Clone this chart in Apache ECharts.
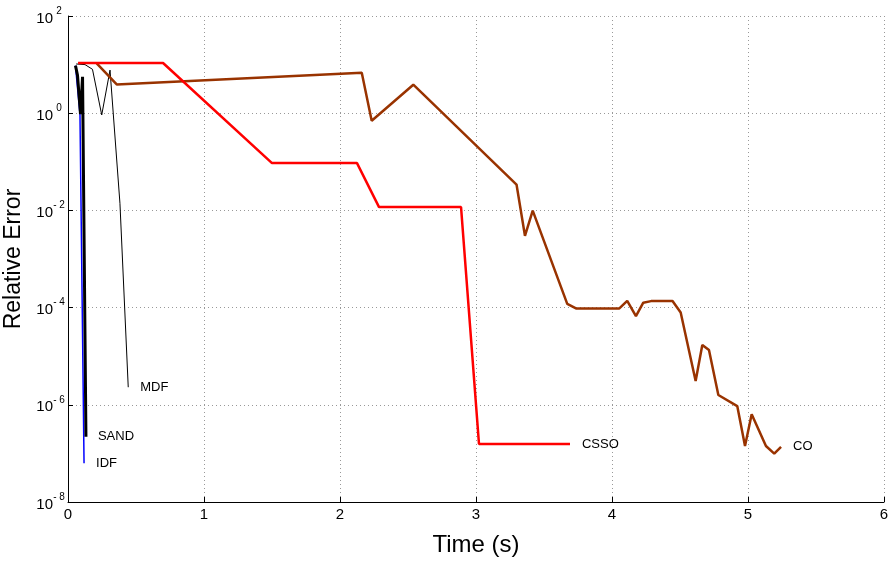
<!DOCTYPE html>
<html>
<head>
<meta charset="utf-8">
<script src="https://cdn.jsdelivr.net/npm/echarts@6/dist/echarts.min.js"></script>
<style>html,body{margin:0;padding:0;background:#fff}#c{width:891px;height:561px}</style>
</head>
<body>
<div id="c"></div>
<script>
// Data (time in s, relative error)
const idfTime = [0.055, 0.088, 0.118];
const idfErr  = [9.5, 0.95, 6.3e-8];

const sandTime = [0.055, 0.07, 0.092, 0.107, 0.132];
const sandErr  = [9.5, 6.0, 0.96, 5.6, 2.2e-7];

const mdfTime = [0.06, 0.125, 0.18, 0.248, 0.309, 0.382, 0.443];
const mdfErr  = [10.3, 10.0, 8.0, 0.92, 7.7, 0.014, 2.3e-6];

const coTime = [0.211, 0.358, 2.16, 2.233, 2.539, 3.298, 3.36, 3.417, 3.671, 3.735, 4.054, 4.112, 4.176, 4.23, 4.287, 4.445, 4.505, 4.615, 4.664, 4.713, 4.782, 4.921, 4.978, 5.027, 5.132, 5.193, 5.243];
const coErr  = [10.6, 3.9, 6.8, 0.70, 3.86, 0.034, 0.0030, 0.0099, 1.19e-4, 9.6e-5, 9.6e-5, 1.37e-4, 6.7e-5, 1.26e-4, 1.36e-4, 1.37e-4, 7.9e-5, 3.1e-6, 1.7e-5, 1.34e-5, 1.59e-6, 9.4e-7, 1.42e-7, 6.4e-7, 1.42e-7, 9.9e-8, 1.37e-7];

const cssoTime = [0.074, 0.699, 1.5, 2.125, 2.287, 2.89, 3.022, 3.691];
const cssoErr  = [10.8, 10.8, 0.094, 0.094, 0.0117, 0.0117, 1.56e-7, 1.56e-7];

const xTicks = [0, 1, 2, 3, 4, 5, 6];

function pairs(xs, ys) { return xs.map((x, i) => [x, ys[i]]); }

const FONT = 'Liberation Sans, Arial, Helvetica, sans-serif';

function mk(name, xs, ys, color, width) {
  return {
    name: name, type: 'line', data: pairs(xs, ys),
    showSymbol: false, symbol: 'none', animation: false,
    lineStyle: { color: color, width: width },
    itemStyle: { color: color },
    endLabel: { show: true, formatter: '{a}', color: '#000', fontSize: 13, fontFamily: FONT, distance: 12 }
  };
}

const chart = echarts.init(document.getElementById('c'), null, { renderer: 'canvas' });
chart.setOption({
  animation: false,
  backgroundColor: '#fff',
  grid: { left: 68, right: 7, top: 16, bottom: 59, containLabel: false, outerBoundsMode: 'none' },
  xAxis: {
    type: 'value', min: 0, max: 6, interval: 1,
    name: 'Time (s)', nameLocation: 'middle', nameGap: 31,
    nameTextStyle: { fontSize: 24, fontFamily: FONT, color: '#000' },
    axisLine: { lineStyle: { color: '#000', width: 1 } },
    axisTick: { inside: true, length: 5, lineStyle: { color: '#000' } },
    axisLabel: { color: '#000', fontSize: 15, fontFamily: FONT, margin: 5,
      formatter: v => (xTicks.indexOf(v) >= 0 ? String(v) : '') },
    splitLine: { show: true, lineStyle: { color: '#999', type: [1, 3], width: 1 } }
  },
  yAxis: {
    type: 'log', logBase: 10, min: 1e-8, max: 1e2, interval: 2,
    name: 'Relative Error', nameLocation: 'middle', nameGap: 38,
    nameTextStyle: { fontSize: 23, fontFamily: FONT, color: '#000' },
    axisLine: { lineStyle: { color: '#000', width: 1 } },
    axisTick: { inside: true, length: 5, lineStyle: { color: '#000' } },
    axisLabel: { color: '#000', margin: 3, fontFamily: FONT,
      formatter: v => {
        const e = Math.round(Math.log10(v));
        const s = e < 0 ? '- ' + (-e) : String(e);
        return '{b|10}{s|' + s + '}';
      },
      rich: {
        b: { fontSize: 15, fontFamily: FONT, color: '#000', lineHeight: 20, verticalAlign: 'bottom' },
        s: { fontSize: 10, fontFamily: FONT, color: '#000', lineHeight: 20, verticalAlign: 'top', width: 12, align: 'left' }
      }
    },
    splitLine: { show: true, lineStyle: { color: '#999', type: [1, 3], width: 1 } }
  },
  series: [
    mk('IDF', idfTime, idfErr, '#0000ff', 1.5),
    mk('SAND', sandTime, sandErr, '#000000', 3),
    mk('MDF', mdfTime, mdfErr, '#000000', 1),
    mk('CO', coTime, coErr, '#993300', 2.5),
    mk('CSSO', cssoTime, cssoErr, '#ff0000', 2.5)
  ]
});
</script>
</body>
</html>
